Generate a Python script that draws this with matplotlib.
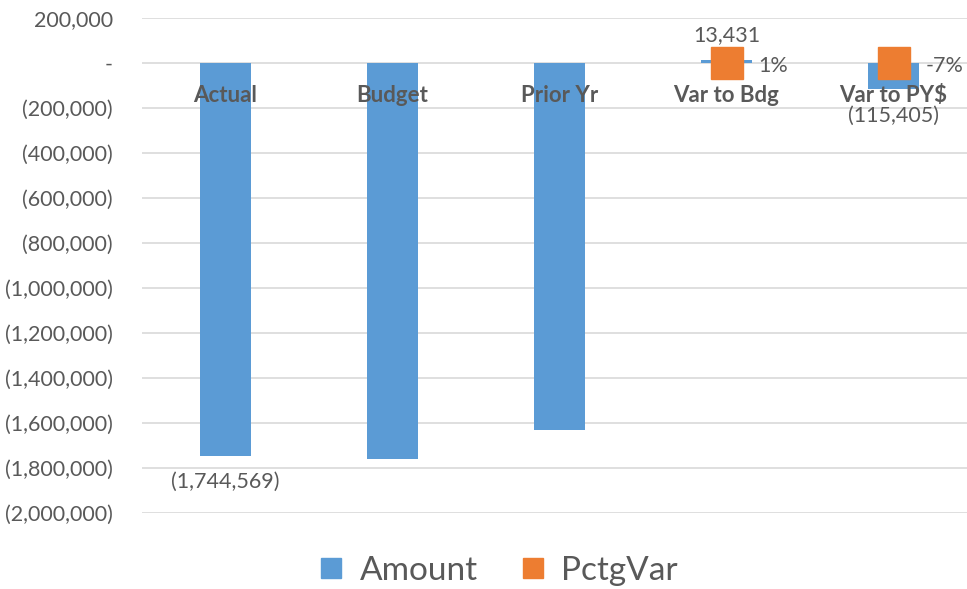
import matplotlib
matplotlib.use("Agg")
import matplotlib.pyplot as plt
from matplotlib.ticker import FuncFormatter
from matplotlib.lines import Line2D
import numpy as np

categories = ["Actual", "Budget", "Prior Yr", "Var to Bdg", "Var to PY$"]
amount = [-1744569, -1758000, -1629164, 13431, -115405]
pctg_var = [np.nan, np.nan, np.nan, 0.01, -0.07]
amount_labels = ["(1,744,569)", None, None, "13,431", "(115,405)"]
pctg_labels = [None, None, None, "1%", "-7%"]
y_ticks = list(range(-2000000, 200001, 200000))

BLUE = "#5b9bd5"
ORANGE = "#ed7d31"
TEXT = "#595959"
GRID = "#d9d9d9"

plt.rcParams["font.family"] = ["Lato", "DejaVu Sans"]

fig = plt.figure(figsize=(9.67, 5.89), dpi=100)
ax = fig.add_axes([142 / 967, 1 - 513 / 589, 1 - 142 / 967, (513 - 18) / 589])

x = np.arange(len(categories))
bars = ax.bar(x, amount, width=0.31, color=BLUE, zorder=2)
ax.plot(x, pctg_var, linestyle="none", marker="s", markersize=23,
        color=ORANGE, zorder=3)

ax.set_ylim(-2000000, 200000)
ax.set_xlim(-0.5, (967 - 142) / 167 - 0.5)
ax.set_yticks(y_ticks)


def fmt(v, _pos=None):
    if v == 0:
        return "-"
    if v < 0:
        return f"({abs(v):,.0f})"
    return f"{v:,.0f}"


ax.yaxis.set_major_formatter(FuncFormatter(fmt))
ax.grid(axis="y", color=GRID, linewidth=1.2)
ax.set_axisbelow(True)
for s in ax.spines.values():
    s.set_visible(False)
ax.tick_params(axis="y", length=0, pad=21, labelsize=15.5, labelcolor=TEXT)

# category labels sit on the zero line, drawn above the bars
ax.spines["bottom"].set_position(("data", 0))
ax.set_xticks(x)
ax.set_xticklabels(categories, fontweight="bold")
ax.tick_params(axis="x", length=0, pad=16, labelsize=16, labelcolor=TEXT)
ax.xaxis.set_zorder(5)

# value labels
for xi, v, lab in zip(x, amount, amount_labels):
    if lab is None:
        continue
    if v >= 0:
        ax.annotate(lab, (xi, v), xytext=(0, 11), textcoords="offset points",
                    ha="center", va="bottom", fontsize=15.5, color=TEXT,
                    zorder=6)
    else:
        ax.annotate(lab, (xi, v), xytext=(0, -12), textcoords="offset points",
                    ha="center", va="top", fontsize=15.5, color=TEXT,
                    zorder=6)

for xi, p, lab in zip(x, pctg_var, pctg_labels):
    if lab is None:
        continue
    ax.annotate(lab, (xi, p), xytext=(23, -2), textcoords="offset points",
                ha="left", va="center", fontsize=15.5, color=TEXT, zorder=6)

handles = [
    Line2D([], [], linestyle="none", marker="s", markersize=15, color=BLUE),
    Line2D([], [], linestyle="none", marker="s", markersize=15, color=ORANGE),
]
fig.legend(handles, ["Amount", "PctgVar"], loc="center",
           bbox_to_anchor=(497 / 967, 1 - 571 / 589), ncol=2, frameon=False,
           fontsize=24, labelcolor=TEXT, handletextpad=0.4,
           columnspacing=1.2, handlelength=0.9)

fig.savefig("out.png", dpi=100)
